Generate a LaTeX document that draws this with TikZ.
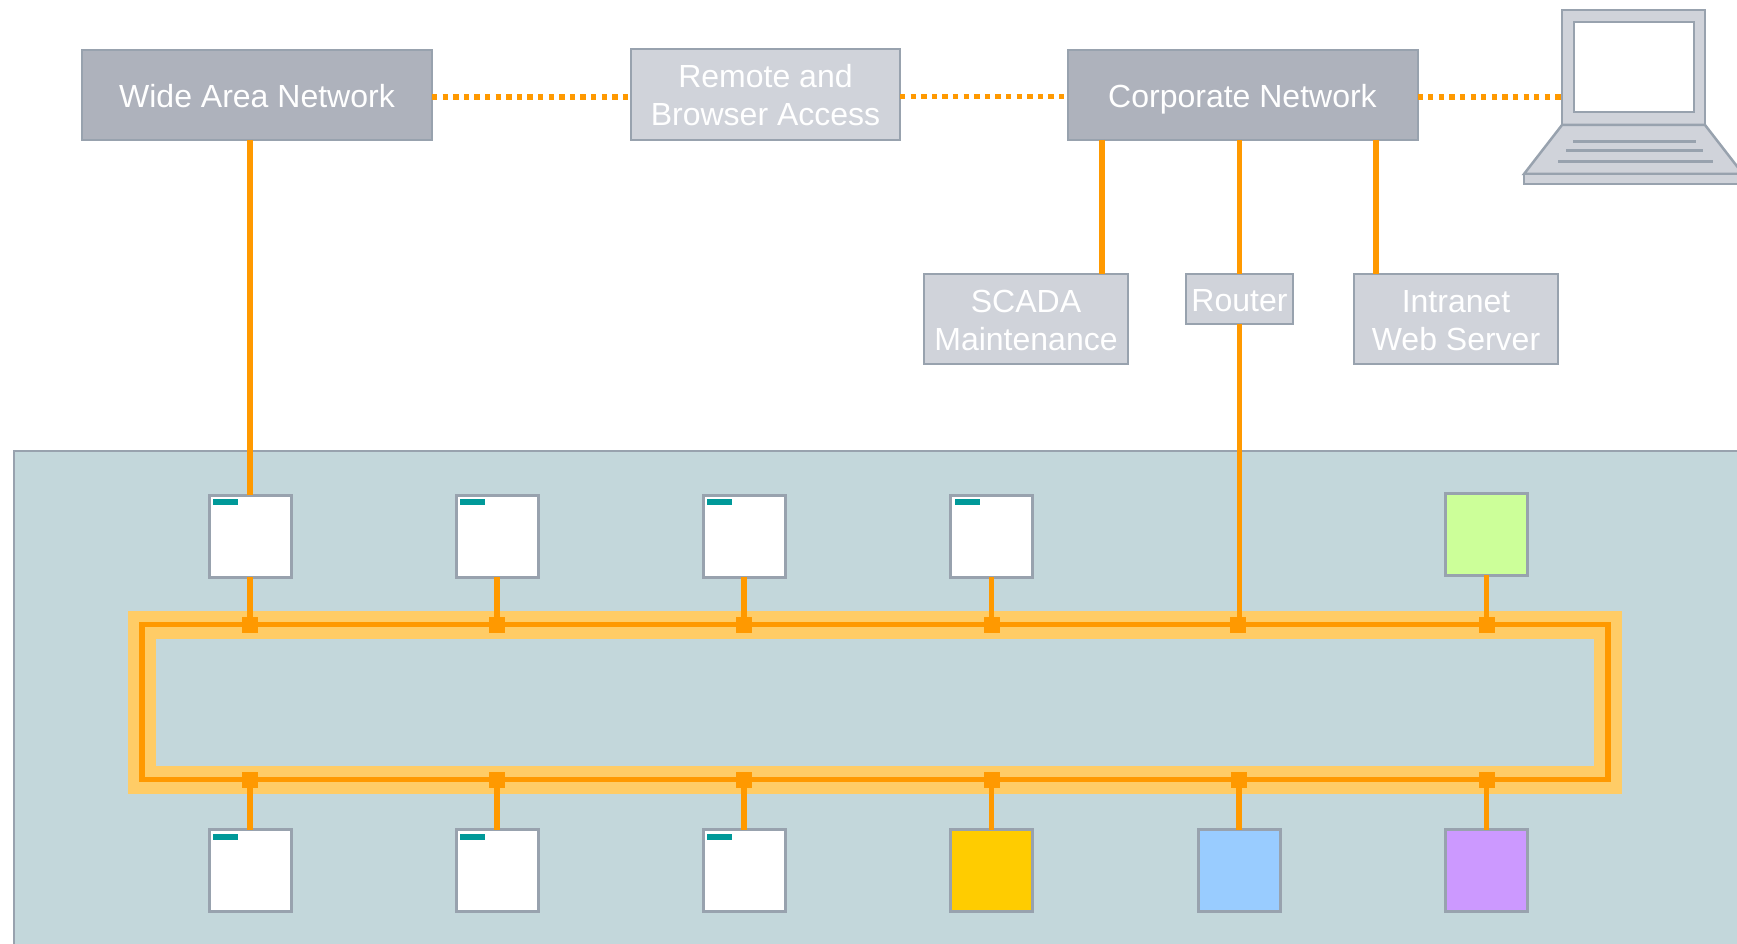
\documentclass[tikz,border=0pt]{standalone}
\usepackage{fontspec}
\setmainfont{Liberation Sans}
\definecolor{netdark}{HTML}{AEB2BC}
\definecolor{netlight}{HTML}{D0D3DA}
\definecolor{netedge}{HTML}{98A2AE}
\definecolor{plant}{HTML}{C3D7DB}
\definecolor{busorange}{HTML}{FF9900}
\definecolor{ringorange}{HTML}{FFCC66}
\definecolor{tabteal}{HTML}{009999}
\definecolor{devgreen}{HTML}{CCFF99}
\definecolor{devyellow}{HTML}{FFCC00}
\definecolor{devblue}{HTML}{99CCFF}
\definecolor{devpurple}{HTML}{CC99FF}

\begin{document}
\begin{tikzpicture}[x=1pt,y=-1pt]
    \tikzstyle{netbox}=[rectangle,draw=netedge,line width=2pt,inner sep=0pt,outer sep=0pt,text=white,align=center,font=\fontsize{32}{38}\selectfont]
    \tikzstyle{darkbox}=[netbox,fill=netdark,minimum width=350pt,minimum height=90pt,text height=31pt,text depth=6pt]
    \tikzstyle{lightbox}=[netbox,fill=netlight,minimum width=204pt,minimum height=90pt,text height=63pt,text depth=0pt]
    \tikzstyle{device}=[rectangle,draw=netedge,line width=3pt,fill=white,inner sep=0pt,outer sep=0pt,minimum size=82pt]
    \tikzstyle{devtab}=[rectangle,fill=tabteal,inner sep=0pt,outer sep=0pt,minimum width=25pt,minimum height=6pt]
    \tikzstyle{tap}=[rectangle,fill=busorange,inner sep=0pt,minimum width=16pt,minimum height=16pt]
    \tikzstyle{bus}=[draw=busorange,line width=5.5pt]
    \tikzstyle{link}=[draw=busorange,line width=5.5pt,dash pattern=on 5.3pt off 5.3pt]
    \tikzstyle{keys}=[draw=netedge,line width=3pt]
    \useasboundingbox (0,0) rectangle (1737,944);

    \fill[plant] (14,451) rectangle (1760,960);
    \draw[netedge,line width=1.5pt] (1760,451) -- (14,451) -- (14,960);

    \node[rectangle,draw=ringorange,line width=28pt,minimum width=1466pt,minimum height=155pt,inner sep=0pt,outer sep=0pt] (ringband) at (875,702) {};
    \node[rectangle,draw=busorange,line width=5.5pt,minimum width=1466pt,minimum height=155pt,inner sep=0pt,outer sep=0pt] (ring) at (875,702) {};

    % top row
    \node[darkbox] (wan) at (257,95) {Wide Area Network};
    \node[lightbox,minimum width=269pt,minimum height=91pt] (remote) at (765.5,94.5) {Remote and\\Browser Access};
    \node[darkbox] (corp) at (1242.5,95) {Corporate Network};
    \node[lightbox] (scada) at (1026,319) {SCADA\\Maintenance};
    \node[lightbox,minimum width=107pt,minimum height=50pt,text height=25.5pt] (router) at (1239.5,299) {Router};
    \node[lightbox] (web) at (1456,319) {Intranet\\Web Server};

    % laptop
    \node[rectangle,draw=netedge,line width=2.5pt,fill=netlight,inner sep=0pt,outer sep=0pt,minimum width=143pt,minimum height=115pt] (lid) at (1633.5,67.5) {};
    \node[rectangle,draw=netedge,line width=2.5pt,fill=white,inner sep=0pt,minimum width=120pt,minimum height=90pt] (screen) at (1634,67) {};
    \draw[netedge,line width=2.5pt,fill=netlight] (lid.south west) -- (1524,174) -- (1743,174) -- (lid.south east) -- cycle;
    \draw[netedge,line width=2.5pt,fill=netlight] (1524,174) rectangle (1743,184);
    \draw[keys] (1573,142) -- (1696,142);
    \draw[keys] (1566,151) -- (1703,151);
    \draw[keys] (1558,162) -- (1713,162);

    % dotted links
    \draw[link] ([yshift=-2pt]wan.east) -- ([yshift=-2pt]wan.east -| remote.west);
    \draw[link] ([yshift=-2pt]remote.east) -- ([yshift=-2pt]remote.east -| corp.west);
    \draw[link] ([yshift=-2pt]corp.east) -- ([yshift=-2pt]corp.east -| lid.west);

    % devices on the ring
    \foreach \name/\xx in {a/250,b/497,c/744,d/991.5}
      \node[device] (top\name) at (\xx,536) {};
    \node[device,fill=devgreen] (tope) at (1486.5,534) {};
    \foreach \name/\xx in {a/250,b/497,c/744}
      \node[device] (bot\name) at (\xx,870.5) {};
    \node[device,fill=devyellow] (botd) at (991.5,870.5) {};
    \node[device,fill=devblue] (bote) at (1239,870.5) {};
    \node[device,fill=devpurple] (botf) at (1486.5,870.5) {};
    \foreach \name in {topa,topb,topc,topd,bota,botb,botc}
      \node[devtab,anchor=north west] (tab\name) at ([shift={(4pt,-4pt)}]\name.north west) {};

    % taps
    \foreach \name/\xx in {a/250,b/497,c/744,d/991.5,r/1238,e/1486.5}
      \node[tap] (utap\name) at (\xx,625) {};
    \foreach \name/\xx in {a/250,b/497,c/744,d/991.5,e/1239,f/1486.5}
      \node[tap] (ltap\name) at (\xx,779.5) {};

    % bus lines
    \foreach \name in {a,b,c,d,e}
      \draw[bus] (top\name.south) -- (utap\name);
    \foreach \name in {a,b,c,d,e,f}
      \draw[bus] (bot\name.north) -- (ltap\name);
    \draw[bus] (wan.south -| topa.north) -- (topa.north);
    \coordinate (scadain) at (1102,274);
    \coordinate (webin) at (1376,274);
    \draw[bus] (corp.south -| scadain) -- (scadain);
    \draw[bus] (corp.south -| router.north) -- (router.north);
    \draw[bus] (corp.south -| webin) -- (webin);
    \draw[bus] (router.south) -- (utapr.north -| router.south);
\end{tikzpicture}
\end{document}
